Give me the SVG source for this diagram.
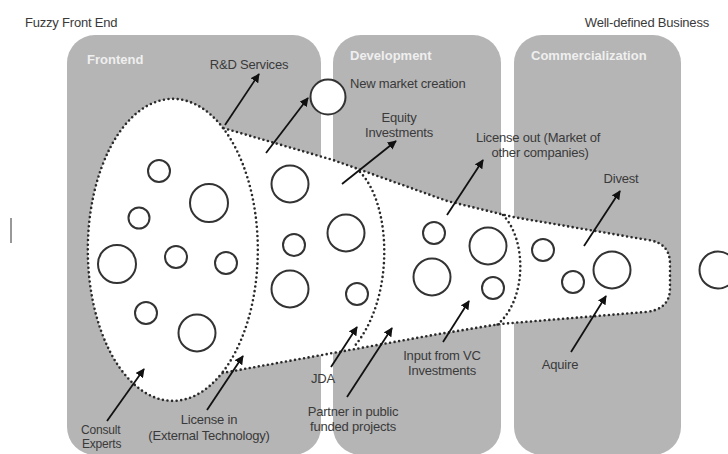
<svg xmlns="http://www.w3.org/2000/svg" width="728" height="454" viewBox="0 0 728 454">
<defs>
<style>
.panel{fill:#b5b5b5}
.ptitle{font-family:"Liberation Sans",Arial,sans-serif;font-size:13px;font-weight:bold;fill:#efefef}
.lbl{font-family:"Liberation Sans",Arial,sans-serif;font-size:13px;fill:#3a3a3a;letter-spacing:-0.2px}
.sm{font-size:12px}
.mid{text-anchor:middle}
.c{fill:#fff;stroke:#333;stroke-width:2}
.dot{fill:none;stroke:#2a2a2a;stroke-width:2.6;stroke-linecap:round;stroke-dasharray:0 4.6}
.arr{stroke:#111;stroke-width:1.8;fill:none;marker-end:url(#ah)}
</style>
<marker id="ah" viewBox="0 0 10 10" refX="9" refY="5" markerWidth="5" markerHeight="5" orient="auto" markerUnits="strokeWidth">
<path d="M0,0 L10,5 L0,10 z" fill="#111"/>
</marker>
</defs>
<rect width="728" height="454" fill="#fff"/>

<g id="titles">
<text class="lbl" x="25" y="27">Fuzzy Front End</text>
<text class="lbl" x="709" y="27" text-anchor="end">Well-defined Business</text>
</g>
<line x1="11" y1="218" x2="11" y2="243" stroke="#333" stroke-width="1"/>

<g id="panel-frontend">
<rect class="panel" x="67" y="35" width="254" height="420" rx="28"/>
<text class="ptitle" x="87" y="64">Frontend</text>
</g>
<g id="panel-development">
<rect class="panel" x="333" y="35" width="168" height="420" rx="28"/>
<text class="ptitle" x="350" y="60">Development</text>
</g>
<g id="panel-commercialization">
<rect class="panel" x="514" y="35" width="167" height="420" rx="28"/>
<text class="ptitle" x="531" y="60">Commercialization</text>
</g>

<g id="funnel">
<path d="M223,128 A85 151 0 1 0 222,373 L333,353 L433,335 L500,324 L645,312 Q670,310 670,288 L670,264 Q670,243 648,240 L513,217 L447,201 L333,160 Z" fill="#fff" stroke="none"/>
<path class="dot" d="M223,128 A85 151 0 1 0 222,373 L333,353 L433,335 L500,324 L645,312 Q670,310 670,288 L670,264 Q670,243 648,240 L513,217 L447,201 L333,160 Z"/>
<path class="dot" d="M223,128 A85 151 0 0 1 222,373"/>
<path class="dot" d="M360,172 C392,205 395,300 353,348"/>
<path class="dot" d="M503,215 C527,240 527,300 497,325"/>
</g>

<g id="bubbles">
<circle class="c" cx="159" cy="171" r="11"/>
<circle class="c" cx="209" cy="203" r="19"/>
<circle class="c" cx="139" cy="218" r="10.5"/>
<circle class="c" cx="117" cy="264" r="19"/>
<circle class="c" cx="176" cy="257" r="11"/>
<circle class="c" cx="226" cy="263" r="11"/>
<circle class="c" cx="146" cy="313" r="11"/>
<circle class="c" cx="197" cy="333" r="18.5"/>
<circle class="c" cx="290" cy="184" r="18.5"/>
<circle class="c" cx="294" cy="245" r="11"/>
<circle class="c" cx="290" cy="289" r="18.5"/>
<circle class="c" cx="346" cy="233" r="18.5"/>
<circle class="c" cx="357" cy="294" r="11"/>
<circle class="c" cx="434" cy="233" r="11"/>
<circle class="c" cx="488" cy="246" r="18.5"/>
<circle class="c" cx="432" cy="277" r="18.5"/>
<circle class="c" cx="493" cy="288" r="11"/>
<circle class="c" cx="543" cy="250" r="11"/>
<circle class="c" cx="573" cy="282" r="11"/>
<circle class="c" cx="612" cy="270" r="18.5"/>
<circle class="c" cx="718" cy="270" r="18.5"/>
</g>

<g id="node-new-market">
<circle class="c" cx="328" cy="97" r="17.5"/>
<text class="lbl" x="350" y="88">New market creation</text>
</g>

<g id="connectors">
<line class="arr" x1="225" y1="125" x2="259" y2="74"/>
<line class="arr" x1="266" y1="153" x2="308" y2="98"/>
<line class="arr" x1="342" y1="184" x2="396" y2="141"/>
<line class="arr" x1="447" y1="215" x2="483" y2="160"/>
<line class="arr" x1="584" y1="246" x2="620" y2="191"/>
<line class="arr" x1="107" y1="421" x2="144" y2="369"/>
<line class="arr" x1="207" y1="410" x2="243" y2="356"/>
<line class="arr" x1="331" y1="367" x2="357" y2="327"/>
<line class="arr" x1="347" y1="397" x2="392" y2="328"/>
<line class="arr" x1="443" y1="342" x2="469" y2="301"/>
<line class="arr" x1="571" y1="352" x2="606" y2="296"/>
</g>

<g id="labels">
<text class="lbl mid" x="249" y="69">R&amp;D Services</text>
<text class="lbl mid" x="399" y="122">Equity</text>
<text class="lbl mid" x="399" y="137">Investments</text>
<text class="lbl mid" x="538" y="142">License out (Market of</text>
<text class="lbl mid" x="540" y="157">other companies)</text>
<text class="lbl mid" x="621" y="183">Divest</text>
<text class="lbl sm" x="81" y="434">Consult</text>
<text class="lbl sm" x="82" y="448">Experts</text>
<text class="lbl mid" x="209" y="424">License in</text>
<text class="lbl mid" x="209" y="440">(External Technology)</text>
<text class="lbl mid" x="323" y="383">JDA</text>
<text class="lbl mid" x="353" y="416">Partner in public</text>
<text class="lbl mid" x="353" y="431">funded projects</text>
<text class="lbl mid" x="442" y="360">Input from VC</text>
<text class="lbl mid" x="442" y="375">Investments</text>
<text class="lbl mid" x="560" y="369">Aquire</text>
</g>
</svg>
